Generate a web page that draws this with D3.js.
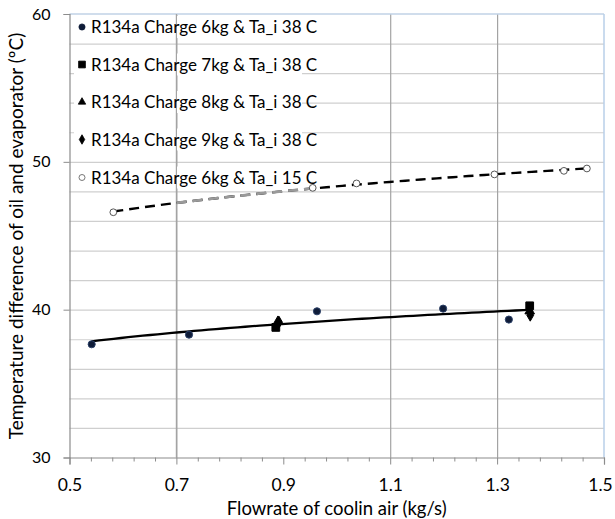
<!DOCTYPE html>
<html><head><meta charset="utf-8">
<script src="https://cdn.jsdelivr.net/npm/d3@7"></script>
<style>body{margin:0;background:#fff}svg{display:block}text{font-family:Lato,"Noto Sans",sans-serif;fill:#000}</style>
</head><body><svg id="c" width="615" height="519"></svg>
<script>
// ---- data ----
const s6kg38x = [0.5415, 0.7236, 0.963, 1.199, 1.322];
const s6kg38y = [37.66, 38.31, 39.89, 40.07, 39.33];
const s7kg38x = [0.886, 1.361];
const s7kg38y = [38.8, 40.26];
const s8kg38x = [0.89, 1.361];
const s8kg38y = [39.2, 39.9];
const s9kg38x = [0.892, 1.362];
const s9kg38y = [39.15, 39.62];
const s6kg15x = [0.582, 0.955, 1.037, 1.295, 1.425, 1.468];
const s6kg15y = [46.59, 48.24, 48.54, 49.15, 49.39, 49.55];
const legendLabels = ["R134a Charge 6kg & Ta_i 38 C","R134a Charge 7kg & Ta_i 38 C","R134a Charge 8kg & Ta_i 38 C","R134a Charge 9kg & Ta_i 38 C","R134a Charge 6kg & Ta_i 15 C"];
const xTicks = [0.5, 0.7, 0.9, 1.1, 1.3, 1.5];
const xGridVals = [0.7, 1.1, 1.3];
const yTicks = [30, 40, 50, 60];
const xTitle = "Flowrate of coolin air (kg/s)";
const yTitle = "Temperature difference of oil and evaporator (ºC)";

const svg = d3.select("#c");
const L = 69.5, R = 604, T = 14, B = 457.5;
const x = d3.scaleLinear().domain([0.5, 1.5]).range([L, R]);
const y = d3.scaleLinear().domain([30, 60]).range([B, T]);

// horizontal gridlines
svg.append("g").attr("transform",`translate(${L},0)`)
  .call(d3.axisLeft(y).tickValues(d3.range(32, 60, 2)).tickSize(-(R-L)).tickFormat(""))
  .call(g=>g.select(".domain").remove())
  .call(g=>g.selectAll("line").attr("stroke","#cfcfcf").attr("stroke-width",1.2));
// vertical gridlines
svg.append("g").attr("transform",`translate(0,${B})`)
  .call(d3.axisBottom(x).tickValues(xGridVals).tickSize(-(B-T)).tickFormat(""))
  .call(g=>g.select(".domain").remove())
  .call(g=>g.selectAll("line").attr("stroke","#a3a3a3").attr("stroke-width",1.2));

// plot border top/right
svg.append("line").attr("x1",L).attr("x2",R).attr("y1",T).attr("y2",T).attr("stroke","#c0d2e6").attr("stroke-width",1.3);
svg.append("line").attr("x1",R).attr("x2",R).attr("y1",T).attr("y2",B).attr("stroke","#b9cfe8").attr("stroke-width",1.5);

// legend white boxes (cover gridlines)
const legY = [27, 64.5, 102, 139.5, 177.5];
legendLabels.forEach((t,i)=>{
  svg.append("rect").attr("x",74).attr("y",legY[i]-11).attr("width",228).attr("height",22).attr("fill","#fff");
});
// re-draw 0.7 vertical gridline over legend boxes
svg.append("line").attr("x1",x(0.7)).attr("x2",x(0.7)).attr("y1",T).attr("y2",B).attr("stroke","#a3a3a3").attr("stroke-width",1.2);

// minor x ticks
svg.append("g").attr("transform",`translate(0,${B})`)
  .call(d3.axisBottom(x).tickValues(d3.range(0.54, 1.5, 0.04).filter(v=>Math.abs((v-0.5)/0.2-Math.round((v-0.5)/0.2))>0.01)).tickSize(4).tickFormat(""))
  .call(g=>g.select(".domain").remove())
  .call(g=>g.selectAll("line").attr("stroke","#8c8c8c"));
// x axis
svg.append("g").attr("transform",`translate(0,${B})`)
  .call(d3.axisBottom(x).tickValues(xTicks).tickSize(7).tickPadding(14).tickFormat(d3.format(".1f")))
  .call(g=>g.select(".domain").attr("stroke","#8c8c8c").attr("stroke-width",1.2))
  .call(g=>g.selectAll("line").attr("stroke","#8c8c8c"))
  .call(g=>g.selectAll("text").attr("font-size",17.5).attr("font-family","Lato"))
  .call(g=>g.selectAll("text").filter(d=>d===1.5).attr("dx",-4));
// y axis
svg.append("g").attr("transform",`translate(${L},0)`)
  .call(d3.axisLeft(y).tickValues(yTicks).tickSize(6).tickPadding(13))
  .call(g=>g.select(".domain").attr("stroke","#8c8c8c").attr("stroke-width",1.2))
  .call(g=>g.selectAll("line").attr("stroke","#8c8c8c"))
  .call(g=>g.selectAll("text").attr("font-size",16).attr("font-family","Lato"));

// titles
svg.append("text").attr("x",(L+R)/2).attr("y",514.5).attr("text-anchor","middle").attr("font-size",18.5).text(xTitle);
svg.append("text").attr("transform",`translate(23,236) rotate(-90)`).attr("text-anchor","middle").attr("font-size",19).text(yTitle);

// log trendlines
function logFit(xs, ys){
  const lx = xs.map(Math.log);
  const mx = d3.mean(lx), my = d3.mean(ys);
  let sxy=0,sxx=0; lx.forEach((v,i)=>{sxy+=(v-mx)*(ys[i]-my); sxx+=(v-mx)*(v-mx);});
  const a = sxy/sxx, b = my - a*mx;
  return v => a*Math.log(v)+b;
}
const allX = [...s6kg38x,...s7kg38x,...s8kg38x,...s9kg38x];
const allY = [...s6kg38y,...s7kg38y,...s8kg38y,...s9kg38y];
const f38 = logFit(allX, allY);
const f15 = logFit(s6kg15x, s6kg15y);
const line = d3.line().x(d=>x(d[0])).y(d=>y(d[1]));
function trendPts(f, lo, hi){ const n=60; return d3.range(n+1).map(i=>{const v=lo+(hi-lo)*i/n; return [v,f(v)];}); }
const p38 = trendPts(f38, d3.min(allX), d3.max(allX));
const p15 = trendPts(f15, d3.min(s6kg15x), d3.max(s6kg15x));
svg.append("path").attr("d",line(p38)).attr("fill","none").attr("stroke","#000").attr("stroke-width",2.3);
svg.append("path").attr("d",line(p15)).attr("fill","none").attr("stroke","#000").attr("stroke-width",2.4).attr("stroke-dasharray","10,6");
svg.append("clipPath").attr("id","gclip").append("rect").attr("x",x(0.7)).attr("width",x(s6kg15x[1])-x(0.7)).attr("y",0).attr("height",519);
svg.append("path").attr("d",line(p15)).attr("fill","none").attr("stroke","#9a9a9a").attr("stroke-width",2.7).attr("stroke-dasharray","10,6").attr("clip-path","url(#gclip)");

// markers
const sym = (type,size)=>d3.symbol().type(type).size(size)();
function pts(xs, ys, type, size, fill, stroke){
  svg.append("g").selectAll("path").data(xs.map((v,i)=>[v,ys[i]])).join("path")
    .attr("transform",d=>`translate(${x(d[0])},${y(d[1])})`).attr("d",sym(type,size))
    .attr("fill",fill).attr("stroke",stroke).attr("stroke-width",1);
}
pts(s6kg15x, s6kg15y, d3.symbolCircle, 36, "#fff", "#555");
pts(s9kg38x, s9kg38y, d3.symbolDiamond, 40, "#000", "#000");
pts(s8kg38x, s8kg38y, d3.symbolTriangle, 40, "#000", "#000");
pts(s7kg38x, s7kg38y, d3.symbolSquare, 60, "#000", "#000");
pts(s6kg38x, s6kg38y, d3.symbolCircle, 40, "#0f1c38", "#2a3f66");

// legend
const legSyms = [[d3.symbolCircle,30,"#0f1c38","#0f1c38"],[d3.symbolSquare,46,"#000","#000"],[d3.symbolTriangle,24,"#000","#000"],[d3.symbolDiamond,26,"#000","#000"],[d3.symbolCircle,28,"#fff","#555"]];
legendLabels.forEach((t,i)=>{
  const s = legSyms[i];
  svg.append("path").attr("transform",`translate(82,${legY[i]})`).attr("d",sym(s[0],s[1])).attr("fill",s[2]).attr("stroke",s[3]).attr("stroke-width",0.8);
  svg.append("text").attr("x",91).attr("y",legY[i]+6).attr("font-size",17).text(t);
});
</script></body></html>
